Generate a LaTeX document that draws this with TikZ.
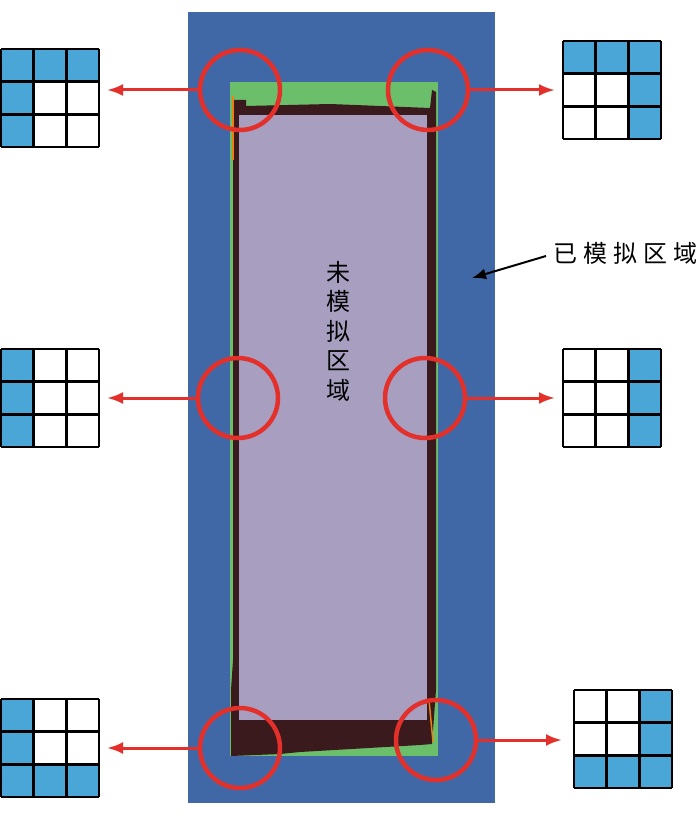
\documentclass[tikz,border=0pt]{standalone}
\usepackage{fontspec}
\newfontfamily\cjk{Noto Sans CJK SC}
\usetikzlibrary{arrows.meta}
\definecolor{bgblue}{HTML}{4068A6}
\definecolor{cellblue}{HTML}{4AA6D6}
\definecolor{frgreen}{HTML}{6CBF6A}
\definecolor{darkbr}{HTML}{3A1A1C}
\definecolor{lavender}{HTML}{A89EC0}
\definecolor{redc}{HTML}{E4302A}
\tikzset{
  ring/.style={circle, draw=redc, line width=4.5pt, minimum size=80pt, inner sep=0pt},
  redarrow/.style={draw=redc, line width=3pt, -{Latex[length=16pt,width=12pt]}},
  gridbox/.style={minimum width=98pt, minimum height=98pt, anchor=north west, inner sep=0pt, outer sep=0pt},
  gridline/.style={line width=2.5pt, black}
}
\newcommand\mygrid[4]{%
  \node[gridbox] (#1) at (#2,#3) {};
  \foreach \v [count=\i from 0] in {#4} {
    \pgfmathtruncatemacro\rr{div(\i,3)}
    \pgfmathtruncatemacro\cc{mod(\i,3)}
    \ifnum\v=1 \fill[cellblue] ({#2+\cc*32.67},{#3+\rr*32.67}) rectangle ++(32.67,32.67);\fi
  }
  \foreach \k in {0,1,2,3} {
    \draw[gridline] ({#2+\k*32.67},#3) -- ({#2+\k*32.67},{#3+98});
    \draw[gridline] (#2,{#3+\k*32.67}) -- ({#2+98},{#3+\k*32.67});
  }
}
\begin{document}
\begin{tikzpicture}[x=1pt,y=-1pt]
\useasboundingbox (0,0) rectangle (700,824);
% simulated region
\fill[bgblue] (188,12) rectangle (495,803);
% frame
\fill[frgreen] (230,82) rectangle (438,756);
\fill[darkbr] (233,100) -- (246,100) -- (246,106) -- (330,104) -- (430,108) -- (432,90) -- (436,92)
  -- (436,690) -- (432,744) -- (420,745) -- (300,752) -- (280,754) -- (231,756) -- (231,690) -- (233,660) -- cycle;
\fill[lavender] (239,115) rectangle (427,720);
\draw[orange!70!brown, line width=1.5pt] (233,96) -- (233,160);
\draw[orange!70!brown, line width=1.5pt] (429,700) -- (433,742);
% unsimulated label
\node[font=\cjk\fontsize{24}{29.5}\selectfont, align=center, inner sep=0pt] (un) at (338,331) {未\\模\\拟\\区\\域};
% simulated label
\node[font=\cjk\fontsize{24}{28}\selectfont, anchor=west, inner sep=0pt] (sim) at (553,253) {已\hspace{6pt}模\hspace{6pt}拟\hspace{6pt}区\hspace{6pt}域};
\coordinate (simtip) at (472,278);
\draw[line width=2pt, -{Latex[length=14pt,width=11pt]}] ([xshift=-7pt,yshift=-3pt]sim.west) -- (simtip);
% rings
\node[ring] (c1) at (240,90) {};
\node[ring] (c2) at (428,90) {};
\node[ring] (c3) at (238,398) {};
\node[ring] (c4) at (425,398) {};
\node[ring] (c5) at (240,748) {};
\node[ring] (c6) at (436,740) {};
% grids
\mygrid{g1}{1}{49}{1,1,1,1,0,0,1,0,0}
\mygrid{g2}{563}{41}{1,1,1,0,0,1,0,0,1}
\mygrid{g3}{1}{349}{1,0,0,1,0,0,1,0,0}
\mygrid{g4}{563}{349}{0,0,1,0,0,1,0,0,1}
\mygrid{g5}{1}{699}{1,0,0,1,0,0,1,1,1}
\mygrid{g6}{574}{690}{0,0,1,0,0,1,1,1,1}
% arrows
\draw[redarrow, shorten >=8pt] (c1.west) -- (c1.west -| g1.east);
\draw[redarrow, shorten >=8pt] (c2.east) -- (c2.east -| g2.west);
\draw[redarrow, shorten >=8pt] (c3.west) -- (c3.west -| g3.east);
\draw[redarrow, shorten >=8pt] (c4.east) -- (c4.east -| g4.west);
\draw[redarrow, shorten >=8pt] (c5.west) -- (c5.west -| g5.east);
\draw[redarrow, shorten >=12pt] (c6.east) -- (c6.east -| g6.west);
\end{tikzpicture}
\end{document}
